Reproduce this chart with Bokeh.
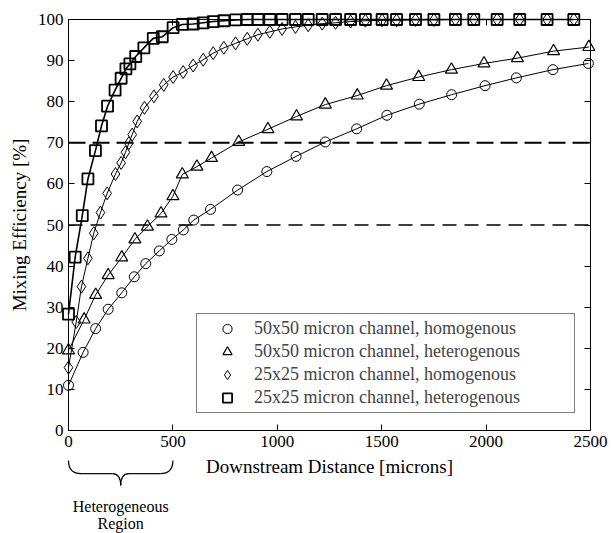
from bokeh.plotting import figure
from bokeh.models import (Range1d, LinearAxis, FixedTicker, Legend, LegendItem,
                          CustomJSTickFormatter)
from bokeh.core.properties import value
from bokeh.embed import file_html
from bokeh.resources import INLINE

# ---------------- data ----------------
x_ticks = [0, 500, 1000, 1500, 2000, 2500]
y_ticks = [0, 10, 20, 30, 40, 50, 60, 70, 80, 90, 100]
thresholds = [70, 50]
region = [0, 500]
region_text = ["Heterogeneous", "Region"]

circ_x = [0, 70, 130, 190, 255, 315, 370, 435, 495, 550, 600, 680, 810, 950,
          1090, 1230, 1380, 1525, 1680, 1835, 1995, 2145, 2320, 2490]
circ_y = [11, 19, 24.8, 29.5, 33.5, 37.4, 40.6, 43.7, 46.5, 48.8, 51.2, 53.8,
          58.5, 63, 66.7, 70.2, 73.4, 76.7, 79.4, 81.7, 83.9, 85.8, 87.8, 89.3]

tri_x = [0, 75, 130, 190, 255, 318, 378, 443, 500, 545, 615, 685, 815, 955,
         1092, 1230, 1383, 1523, 1677, 1834, 1990, 2150, 2323, 2492]
tri_y = [19.5, 27, 33, 37.8, 42.1, 46.5, 49.6, 52.8, 57, 62.3, 64.2, 66.3,
         70.2, 73.3, 76.4, 79.3, 81.5, 83.9, 86, 87.8, 89.3, 90.6, 92.3, 93.3]

dia_x = [0, 37, 62, 93, 121, 153, 185, 225, 252, 273, 289, 305, 329, 364, 409,
         456, 501, 549, 597, 645, 693, 744, 800, 856, 907, 964, 1023, 1087,
         1148, 1215, 1279, 1351, 1422, 1502, 1571, 1662, 1750, 1853, 1941,
         2053, 2161, 2292, 2420]
dia_y = [15.3, 26.4, 35, 41.9, 48, 53, 57.7, 62.4, 65.1, 67.7, 69.9, 72, 75.2,
         78.5, 81.3, 84.1, 86, 87.2, 88.8, 90.2, 91.8, 93.1, 94.2, 95.3, 96.3,
         97, 97.7, 98.2, 98.6, 99, 99.2, 99.5, 99.7, 99.8, 99.8, 99.9, 99.9,
         100, 100, 100, 100, 100, 100]

sq_x = [0, 32, 66, 93, 129, 158, 187, 223, 252, 275, 294, 322, 361, 406, 449,
        501, 545, 597, 645, 693, 744, 800, 856, 907, 964, 1023, 1087, 1148,
        1215, 1279, 1351, 1422, 1502, 1571, 1662, 1750, 1853, 1941, 2053,
        2161, 2292, 2420]
sq_y = [28.3, 42.2, 52.3, 61.2, 68.1, 74.1, 78.9, 82.8, 85.7, 88, 89.2, 91,
        93.1, 95.4, 95.8, 98, 98.8, 98.9, 99.2, 99.5, 99.7, 99.9, 100, 100,
        100, 100, 100, 100, 100, 100, 100, 100, 100, 100, 100, 100, 100, 100,
        100, 100, 100, 100]

labels = ["50x50 micron channel, homogenous",
          "50x50 micron channel, heterogenous",
          "25x25 micron channel, homogenous",
          "25x25 micron channel, heterogenous"]

FONT = "Liberation Serif"

# ---------------- figure ----------------
p = figure(width=613, height=533, output_backend="svg", toolbar_location=None,
           x_range=Range1d(x_ticks[0], x_ticks[-1]),
           y_range=Range1d(y_ticks[0], y_ticks[-1]),
           min_border_left=68, min_border_right=23,
           min_border_top=19, min_border_bottom=103)
p.background_fill_color = "white"
p.border_fill_color = "white"
p.outline_line_color = "black"
p.outline_line_width = 1
p.xgrid.visible = False
p.ygrid.visible = False

def style_axis(ax, ticks):
    ax.ticker = FixedTicker(ticks=ticks)
    ax.major_tick_in = 6
    ax.major_tick_out = 0
    ax.minor_tick_in = 0
    ax.minor_tick_out = 0
    ax.axis_line_color = "black"
    ax.major_tick_line_color = "black"
    ax.major_label_text_font = FONT
    ax.major_label_text_font_size = "17px"
    ax.major_label_text_color = "black"
    ax.axis_label_text_font = FONT
    ax.axis_label_text_font_size = "19px"
    ax.axis_label_text_font_style = "normal"
    ax.axis_label_text_color = "black"

xa = p.xaxis[0]
style_axis(xa, x_ticks)
xa.axis_label = "Downstream Distance [microns]"
xa.major_label_standoff = 5
xa.axis_label_standoff = 6

ya = p.yaxis[0]
style_axis(ya, y_ticks)
ya.axis_label = "Mixing Efficiency [%]"
ya.major_label_standoff = 5
ya.axis_label_standoff = 5

blank = CustomJSTickFormatter(code="return ''")
top = LinearAxis(formatter=blank)
style_axis(top, x_ticks)
top.major_label_standoff = 0
top.major_label_text_font_size = "1px"
p.add_layout(top, "above")
right = LinearAxis(formatter=blank)
style_axis(right, y_ticks)
right.major_label_standoff = 0
right.major_label_text_font_size = "1px"
p.add_layout(right, "right")

# dashed reference lines
p.segment(x0=[x_ticks[0]], x1=[x_ticks[-1]], y0=[thresholds[0]], y1=[thresholds[0]],
          line_color="black", line_width=2, line_dash="17 7")
p.segment(x0=[x_ticks[0]], x1=[x_ticks[-1]], y0=[thresholds[1]], y1=[thresholds[1]],
          line_color="black", line_width=1.4, line_dash="14 8")

series = [
    (circ_x, circ_y, "circle", 10, 1.0, 1.0),
    (tri_x, tri_y, "triangle", 12, 1.2, 1.0),
    (dia_x, dia_y, "diamond", 13, 1.0, 1.0),
    (sq_x, sq_y, "square", 11, 1.8, 1.6),
]
items = []
for (xs, ys, mk, sz, mlw, llw), lab in zip(series, labels):
    ln = p.line(xs, ys, line_color="black", line_width=llw)
    ln.level = "annotation"
    sc = p.scatter(xs, ys, marker=mk, size=sz, line_color="black",
                   line_width=mlw, fill_color=None)
    sc.level = "annotation"
    items.append(LegendItem(label=lab, renderers=[sc]))

legend = Legend(items=items, location=(128, 17), margin=0, padding=3,
                spacing=0, label_height=23, glyph_height=23, glyph_width=54,
                label_standoff=0, label_width=317,
                label_text_font=FONT, label_text_font_size="18px",
                border_line_color="black", border_line_width=1,
                background_fill_color="white", background_fill_alpha=1)
p.add_layout(legend, "center")

# brace under the heterogeneous region
x0, x1 = region
xc = (x0 + x1) / 2.0
q_end, q_tip = 60, 40
ytop, ymid, ybot = -7.3, -10.5, -13.4
qd = p.quadratic(x0=[x0, xc - q_tip, xc, x1 - q_end],
                 y0=[ytop, ymid, ybot, ymid],
                 x1=[x0 + q_end, xc, xc + q_tip, x1],
                 y1=[ymid, ybot, ymid, ytop],
                 cx=[x0, xc, xc, x1],
                 cy=[ymid, ymid, ymid, ymid],
                 line_color="black", line_width=1.2)
qd.level = "annotation"
sg = p.segment(x0=[x0 + q_end, xc + q_tip], x1=[xc - q_tip, x1 - q_end],
               y0=[ymid, ymid], y1=[ymid, ymid], line_color="black", line_width=1.2)
sg.level = "annotation"

tx = p.text(x=[xc, xc], y=[-18.5, -22.6], text=region_text, text_align="center",
            text_baseline="middle", text_font=value(FONT), text_font_size="16px",
            text_color="black")
tx.level = "annotation"

open("out.html", "w").write(file_html(p, INLINE))
